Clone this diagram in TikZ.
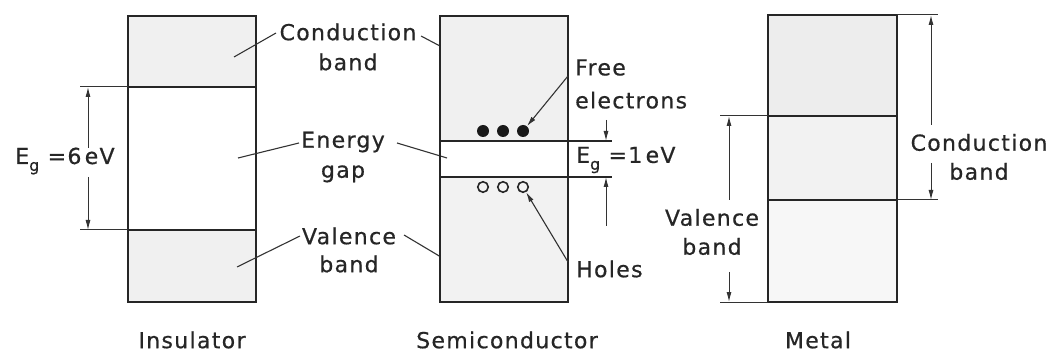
\documentclass[tikz,border=0pt]{standalone}
\usepackage{fontspec}
\setmainfont[LetterSpace=6,FakeBold=0.6]{DejaVu Sans}
\usetikzlibrary{arrows.meta}
\begin{document}
\begin{tikzpicture}[x=1pt,y=-1pt,
  outline/.style={draw=black!85, line width=2.4pt},
  sepline/.style={draw=black!85, line width=2pt},
  leader/.style={draw=black!80, line width=1.1pt},
  dimline/.style={draw=black!80, line width=1pt},
  tipend/.style={-{Latex[length=10pt,width=5pt]}},
  lbl/.style={font=\fontsize{22}{30}\selectfont, align=center, inner sep=0pt, text=black!85},
  dot/.style={circle, fill=black!90, minimum size=12pt, inner sep=0pt},
  hole/.style={circle, draw=black!85, line width=1.6pt, minimum size=10.5pt, inner sep=0pt},
]
\newcommand{\subg}{\raisebox{-7pt}{\fontsize{16}{16}\selectfont g}}
\useasboundingbox (0,0) rectangle (1056,352);

% ---------------- Insulator ----------------
\fill[black!6] (128,16) rectangle (256,87);
\fill[black!6] (128,230) rectangle (256,302);
\draw[outline] (128,16) rectangle (256,302);
\draw[sepline] (128,87) -- (256,87);
\draw[sepline] (128,230) -- (256,230);

\coordinate (ict) at (80,87);
\coordinate (icb) at (128,87);
\coordinate (ivt) at (80,230);
\coordinate (ivb) at (128,230);
\draw[dimline] (ict) -- (icb);
\draw[dimline] (ivt) -- (ivb);
\node[lbl] (egi) at (65,161) {E\subg{} =6\hspace{0.15em}eV};
\coordinate (ia1) at (88,148);
\coordinate (ia1e) at (88,87);
\coordinate (ia2) at (88,177);
\coordinate (ia2e) at (88,230);
\draw[dimline,tipend] (ia1) -- (ia1e);
\draw[dimline,tipend] (ia2) -- (ia2e);

% shared labels
\node[lbl] (cb) at (348,47) {Conduction\\band};
\node[lbl] (eg) at (343,157) {Energy\\gap};
\node[lbl, font=\fontsize{22}{28}\selectfont] (vb) at (349,250) {Valence\\band};

\coordinate (cbL) at (234,57);
\coordinate (cbLs) at (276,33);
\coordinate (cbR) at (457,55);
\coordinate (cbRs) at (421,36);
\draw[leader] (cbLs) -- (cbL);
\draw[leader] (cbRs) -- (cbR);

\coordinate (egL) at (238,158);
\coordinate (egLs) at (299,143);
\coordinate (egR) at (447,158);
\coordinate (egRs) at (397,143);
\draw[leader] (egLs) -- (egL);
\draw[leader] (egRs) -- (egR);

\coordinate (vbL) at (237,267);
\coordinate (vbLs) at (300,236);
\coordinate (vbR) at (456,266);
\coordinate (vbRs) at (404,235);
\draw[leader] (vbLs) -- (vbL);
\draw[leader] (vbRs) -- (vbR);

% ---------------- Semiconductor ----------------
\fill[black!6] (440,16) rectangle (568,141);
\fill[black!5] (440,177) rectangle (568,302);
\draw[outline] (440,16) rectangle (568,302);
\draw[sepline] (440,141) -- (612,141);
\draw[sepline] (440,177) -- (612,177);

\node[dot] (e1) at (483,131) {};
\node[dot] (e2) at (503,131) {};
\node[dot] (e3) at (523,131) {};
\node[hole] (h1) at (483,187) {};
\node[hole] (h2) at (503,187) {};
\node[hole] (h3) at (523,187) {};

\node[lbl, align=left, anchor=west, font=\fontsize{22}{33}\selectfont] (fe) at (575,84) {Free\\electrons};
\coordinate (feS) at (568,76);
\draw[leader,tipend] (feS) -- (e3);

\node[lbl, anchor=west] (ho) at (576,269) {Holes};
\coordinate (hoS) at (568,262);
\draw[leader,tipend] (hoS) -- (h3);

\node[lbl, anchor=west] (egs) at (576,160) {E\subg{} =1\hspace{0.15em}eV};
\coordinate (sa1) at (606,120);
\coordinate (sa1e) at (606,141);
\coordinate (sa2) at (606,226);
\coordinate (sa2e) at (606,177);
\draw[dimline,tipend] (sa1) -- (sa1e);
\draw[dimline,tipend] (sa2) -- (sa2e);

% ---------------- Metal ----------------
\fill[black!7] (768,15) rectangle (897,116);
\fill[black!5] (768,116) rectangle (897,200);
\fill[black!3] (768,200) rectangle (897,302);
\draw[outline] (768,15) rectangle (897,302);
\draw[sepline] (768,116) -- (897,116);
\draw[sepline] (768,200) -- (897,200);

\coordinate (mct) at (897,15);
\coordinate (mcte) at (938,15);
\coordinate (mcb) at (897,200);
\coordinate (mcbe) at (938,200);
\draw[dimline] (mct) -- (mcte);
\draw[dimline] (mcb) -- (mcbe);
\node[lbl, font=\fontsize{22}{29}\selectfont] (mcl) at (979,157) {Conduction\\band};
\coordinate (ma1) at (931,125);
\coordinate (ma1e) at (931,15);
\coordinate (ma2) at (931,163);
\coordinate (ma2e) at (931,200);
\draw[dimline,tipend] (ma1) -- (ma1e);
\draw[dimline,tipend] (ma2) -- (ma2e);

\coordinate (mvt) at (720,116);
\coordinate (mvte) at (768,116);
\coordinate (mvb) at (720,302);
\coordinate (mvbe) at (768,302);
\draw[dimline] (mvt) -- (mvte);
\draw[dimline] (mvb) -- (mvbe);
\node[lbl, font=\fontsize{22}{29}\selectfont] (mvl) at (712,232) {Valence\\band};
\coordinate (mv1) at (729,200);
\coordinate (mv1e) at (729,116);
\coordinate (mv2) at (729,272);
\coordinate (mv2e) at (729,302);
\draw[dimline,tipend] (mv1) -- (mv1e);
\draw[dimline,tipend] (mv2) -- (mv2e);

% ---------------- Titles ----------------
\node[lbl] (tins) at (192,340) {Insulator};
\node[lbl] (tsem) at (507,340) {Semiconductor};
\node[lbl] (tmet) at (818,340) {Metal};
\end{tikzpicture}
\end{document}
